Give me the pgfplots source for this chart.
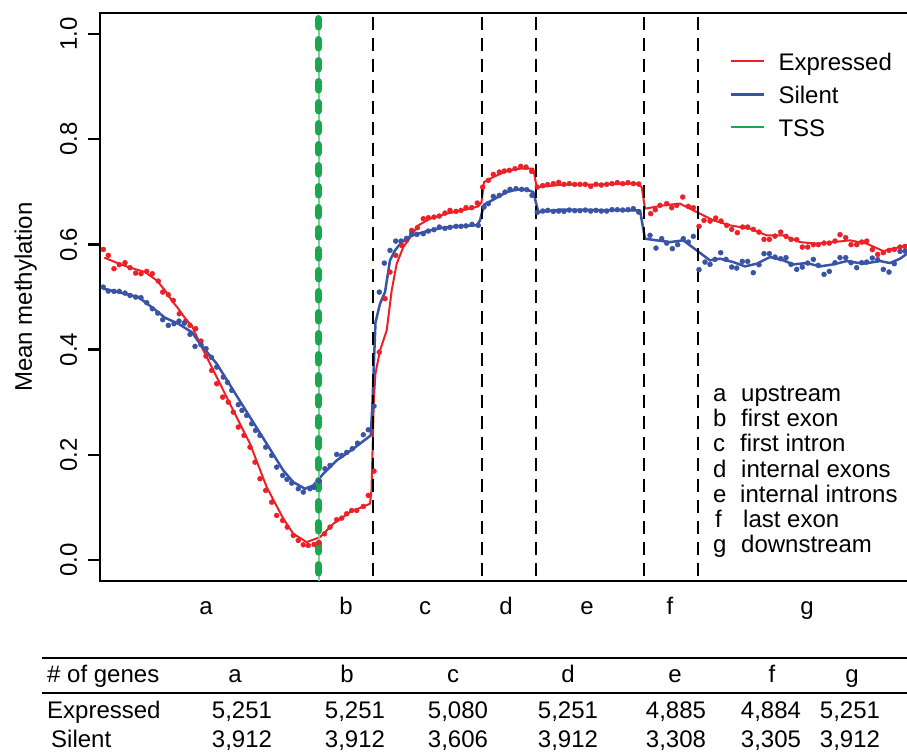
\documentclass[border=0pt]{standalone}
\usepackage{fontspec}
\setmainfont{Liberation Sans}
\usepackage{pgfplots}
\pgfplotsset{compat=1.18}
\definecolor{exred}{RGB}{236,32,39}
\definecolor{siblue}{RGB}{58,84,165}
\definecolor{tssgreen}{RGB}{26,168,78}
\definecolor{tsslight}{RGB}{130,205,155}
\newcommand\fs{\fontsize{24}{28}\selectfont}
\begin{document}
\begin{tikzpicture}
\useasboundingbox (0,0) rectangle (907pt,752pt);
\begin{axis}[
  at={(100pt,171pt)}, anchor=south west,
  scale only axis, width=815pt, height=568pt,
  xmin=100, xmax=915, ymin=-0.04, ymax=1.04,
  axis line style={line width=2.4pt, black},
  tick align=outside, major tick length=12pt,
  ytick={0,0.2,0.4,0.6,0.8,1.0},
  yticklabels={0.0,0.2,0.4,0.6,0.8,1.0},
  ytick style={line width=2.4pt, black},
  yticklabel style={rotate=90, anchor=base, inner sep=0pt, font=\fs, yshift=11pt},
  xtick={206,346,425,506,587,670,807},
  xticklabels={a,b,c,d,e,f,g},
  xtick style={draw=none},
  xticklabel style={anchor=base, inner sep=0pt, font=\fs, yshift=-22pt},
  ylabel={Mean methylation},
  ylabel style={at={(axis description cs:-0.0835,0.5)}, anchor=base, inner sep=0pt, font=\fs},
  legend style={at={(axis cs:730,0.9633)}, anchor=north west, draw=none, fill=none,
    inner sep=0pt, outer sep=0pt, row sep=11pt, column sep=13pt, font=\fs,
    nodes={inner sep=0pt, text height=17pt, text depth=5pt, anchor=base west}},
  legend cell align=left,
  legend image code/.code={\draw[#1] (0pt,9pt) -- (33pt,9pt);},
]
% Expressed: smoothed line
\addplot[exred, line width=2pt, line join=round, forget plot] coordinates {
(104.3,0.5748)(115,0.5664)(128.3,0.5569)(145,0.5474)(156.7,0.5316)(165,0.5126)(171.7,0.4935)(178.3,0.4777)(186.7,0.4555)(191.7,0.4460)(200,0.4112)(216.7,0.3477)(233.3,0.2843)(250,0.2210)(266.7,0.1385)(283.3,0.0784)(293.3,0.0498)(306.7,0.0339)(320,0.0434)(333.3,0.0688)(350,0.0909)(370,0.1069)(371.5,0.1322)(372.8,0.2273)(373.8,0.3034)(375.5,0.3547)(380,0.3984)(386.7,0.4365)(391.7,0.5126)(396.7,0.5633)(403.3,0.5949)(410,0.6128)(418.3,0.6362)(430,0.6489)(446.7,0.6584)(466.7,0.6666)(478.3,0.6723)(481.5,0.6799)(484,0.7185)(493.3,0.7281)(506.7,0.7395)(520,0.7440)(533.3,0.7440)(536.7,0.7090)(563.3,0.7136)(596.7,0.7136)(620,0.7151)(636.7,0.7155)(641.7,0.7090)(645,0.6679)(663.3,0.6742)(680,0.6775)(696.7,0.6615)(713.3,0.6457)(730,0.6362)(750,0.6299)(766.7,0.6172)(783.3,0.6172)(800,0.6044)(816.7,0.6014)(833.3,0.6044)(850,0.6077)(866.7,0.6014)(883.3,0.5873)(900,0.5949)(907,0.5981)};
% Silent: smoothed line
\addplot[siblue, line width=2.5pt, line join=round, forget plot] coordinates {
(103.3,0.5158)(118.3,0.5093)(138.3,0.4998)(151.7,0.4808)(165,0.4606)(178.3,0.4492)(191.7,0.4333)(200,0.4112)(216.7,0.3732)(233.3,0.3224)(250,0.2716)(266.7,0.2210)(283.3,0.1702)(293.3,0.1480)(305,0.1354)(313.3,0.1417)(323.3,0.1639)(336.7,0.1892)(353.3,0.2115)(370.7,0.2368)(372.3,0.2906)(374,0.3791)(375.5,0.4517)(380,0.4873)(385,0.5093)(390,0.5696)(395,0.5886)(401.7,0.6044)(410,0.6153)(426.7,0.6253)(443.3,0.6318)(460,0.6349)(476.7,0.6362)(480,0.6457)(484,0.6756)(493.3,0.6851)(506.7,0.6995)(516.7,0.7041)(526.7,0.7041)(533.3,0.6995)(538.3,0.6615)(560,0.6660)(600,0.6653)(640,0.6647)(645,0.6109)(656.7,0.6077)(670,0.6044)(683.3,0.6077)(696.7,0.5886)(710,0.5696)(720,0.5728)(733.3,0.5664)(745,0.5582)(756.7,0.5633)(770,0.5759)(783.3,0.5696)(793.3,0.5620)(806.7,0.5645)(820,0.5582)(833.3,0.5620)(846.7,0.5683)(863.3,0.5633)(880,0.5683)(890,0.5645)(900,0.5728)(907,0.5824)};
% Expressed: points
\addplot[only marks, mark=*, mark size=2.5pt, exred, forget plot] coordinates {
(103.3,0.5905)(108.3,0.5791)(114,0.5538)(119.3,0.5614)(125,0.5652)(130,0.5557)(135.7,0.5455)(141,0.5443)(146.7,0.5487)(152.3,0.5443)(158.3,0.5302)(162.7,0.5093)(168.3,0.5044)(173.3,0.4935)(179.3,0.4682)(185.7,0.4542)(190,0.4460)(195.7,0.4397)(201,0.4161)(206,0.3876)(211.7,0.3604)(216.7,0.3351)(222.7,0.3096)(228.3,0.3001)(233.3,0.2811)(238.3,0.2526)(244,0.2368)(250,0.2145)(255,0.1860)(260,0.1544)(265.7,0.1322)(271.7,0.1099)(276.7,0.0846)(282.7,0.0751)(287.3,0.0624)(293.3,0.0466)(298.3,0.0371)(303.3,0.0289)(308.3,0.0276)(314,0.0295)(319,0.0330)(324.5,0.0498)(330,0.0624)(336.7,0.0765)(341.7,0.0795)(346.7,0.0879)(351.7,0.0941)(356.7,0.0941)(363.3,0.1018)(368.3,0.1227)(374,0.1689)(379.3,0.3952)(385,0.4968)(390,0.5474)(395.7,0.5791)(401.7,0.5981)(406.5,0.6077)(411.7,0.6267)(417.3,0.6318)(423.3,0.6489)(428.3,0.6508)(434,0.6520)(439.3,0.6539)(445,0.6596)(450,0.6647)(456,0.6628)(461,0.6647)(466,0.6698)(471.7,0.6698)(477.3,0.6786)(482.7,0.7090)(488.3,0.7218)(493.3,0.7332)(499.3,0.7376)(504.3,0.7395)(509.3,0.7408)(515,0.7440)(520.7,0.7484)(526,0.7471)(531.7,0.7389)(537.3,0.7090)(542.7,0.7117)(547.7,0.7136)(553.3,0.7155)(558.7,0.7180)(564,0.7142)(569.3,0.7155)(574.7,0.7142)(580,0.7142)(585.3,0.7142)(590.7,0.7104)(596,0.7142)(601.3,0.7129)(606.7,0.7142)(612,0.7155)(617.3,0.7174)(622.7,0.7155)(628,0.7174)(633.3,0.7155)(638.7,0.7148)(650.7,0.6584)(655.3,0.6660)(660,0.6742)(666.7,0.6775)(671.7,0.6698)(676.7,0.6742)(682.7,0.6900)(688.3,0.6723)(693.3,0.6698)(699,0.6343)(704,0.6457)(710,0.6444)(715.7,0.6501)(721,0.6444)(726.7,0.6362)(731.7,0.6286)(737.3,0.6223)(742.7,0.6330)(747.7,0.6330)(753.3,0.6286)(759,0.6234)(764,0.6096)(769.3,0.6096)(775,0.6158)(780.7,0.6234)(786,0.6153)(791,0.6096)(796.7,0.6090)(802.3,0.5949)(807.7,0.5949)(813.3,0.5995)(818.3,0.5995)(824,0.6025)(829.3,0.6025)(835,0.6063)(840,0.6185)(845.7,0.6128)(851,0.5995)(856.7,0.5995)(861.7,0.6044)(866.7,0.6063)(872.3,0.5900)(877.7,0.5810)(883.3,0.5843)(889,0.5886)(894.3,0.5905)(900,0.5949)(905,0.5962)};
% Silent: points
\addplot[only marks, mark=*, mark size=2.5pt, siblue, forget plot] coordinates {
(103.3,0.5188)(108.3,0.5112)(114,0.5107)(119.3,0.5107)(125,0.5074)(130,0.5030)(135.7,0.4998)(141,0.4987)(146.7,0.4892)(152.3,0.4777)(157.7,0.4694)(162.7,0.4568)(168.3,0.4460)(174,0.4492)(179,0.4542)(184.3,0.4504)(190,0.4289)(195,0.4061)(201,0.4093)(206,0.4017)(211.5,0.3851)(216.7,0.3667)(223.3,0.3477)(227.5,0.3376)(231.7,0.3224)(238.3,0.2952)(242,0.2843)(246.7,0.2748)(251.7,0.2590)(255.5,0.2463)(260,0.2368)(265.7,0.2145)(271.7,0.1987)(276.7,0.1765)(282.7,0.1607)(287,0.1531)(291.7,0.1461)(298.3,0.1354)(303.3,0.1290)(310,0.1354)(314,0.1379)(319,0.1500)(325,0.1735)(330,0.1797)(336.7,0.2007)(341.7,0.1988)(346.7,0.2045)(352.3,0.2115)(357.5,0.2220)(363.3,0.2381)(368.3,0.2476)(374,0.2925)(379.3,0.5093)(384.3,0.5645)(390,0.5886)(395.7,0.6063)(401,0.6063)(406.5,0.6115)(411.7,0.6204)(417,0.6191)(423.3,0.6204)(428.3,0.6253)(434,0.6280)(439.3,0.6330)(445,0.6305)(450,0.6324)(456,0.6343)(461,0.6343)(466,0.6352)(472,0.6381)(478.3,0.6362)(484,0.6710)(488.3,0.6775)(493.3,0.6913)(499.3,0.6932)(505,0.6995)(510,0.7047)(516,0.7060)(521.7,0.7047)(526.7,0.7041)(532,0.6932)(537.3,0.6609)(542.7,0.6634)(547.7,0.6647)(553.3,0.6628)(558.7,0.6634)(564,0.6628)(569.3,0.6653)(574.7,0.6641)(580,0.6641)(585.3,0.6653)(590.7,0.6634)(596,0.6647)(601.3,0.6634)(606.7,0.6634)(612,0.6660)(617.3,0.6660)(622.7,0.6653)(628,0.6660)(633.3,0.6679)(638.7,0.6615)(650,0.6172)(656,0.5930)(661.7,0.6109)(666.7,0.6025)(672.3,0.5919)(677.7,0.5995)(683.3,0.6109)(688.3,0.6044)(693.3,0.6153)(699,0.5519)(705,0.5664)(710,0.5620)(715,0.5715)(720.7,0.5843)(726,0.5715)(731.7,0.5569)(736.7,0.5550)(742.3,0.5677)(747.7,0.5677)(753.3,0.5462)(759,0.5614)(764,0.5824)(769.3,0.5824)(775,0.5759)(780.7,0.5728)(786,0.5748)(791,0.5620)(796.7,0.5525)(802.3,0.5569)(807.7,0.5645)(813.3,0.5715)(818.3,0.5601)(824,0.5430)(829.3,0.5487)(835,0.5652)(840,0.5748)(845.7,0.5748)(851,0.5652)(856.7,0.5557)(861.7,0.5652)(866.7,0.5664)(872.3,0.5740)(877.7,0.5709)(883.3,0.5525)(889,0.5474)(894.3,0.5633)(900,0.5867)(905,0.5873)};
% TSS line
\addplot[tsslight, line width=2pt, forget plot] coordinates {(318.5,1.032) (318.5,-0.04)};
\addplot[tssgreen, line width=7.5pt, line cap=round, dash pattern=on 8pt off 13pt, forget plot] coordinates {(318.5,1.029) (318.5,-0.06)};
% region boundaries
\addplot[black, line width=2.4pt, dash pattern=on 13pt off 8pt, forget plot] coordinates {(373,1.032) (373,-0.04)};
\addplot[black, line width=2.4pt, dash pattern=on 13pt off 8pt, forget plot] coordinates {(482,1.032) (482,-0.04)};
\addplot[black, line width=2.4pt, dash pattern=on 13pt off 8pt, forget plot] coordinates {(536,1.032) (536,-0.04)};
\addplot[black, line width=2.4pt, dash pattern=on 13pt off 8pt, forget plot] coordinates {(644,1.032) (644,-0.04)};
\addplot[black, line width=2.4pt, dash pattern=on 13pt off 8pt, forget plot] coordinates {(698,1.032) (698,-0.04)};
\addlegendimage{exred, line width=2pt}
\addlegendentry{Expressed}
\addlegendimage{siblue, line width=2.5pt}
\addlegendentry{Silent}
\addlegendimage{tssgreen, line width=2pt}
\addlegendentry{TSS}
\end{axis}
\begin{scope}[x=1pt, y=-1pt, shift={(0pt,752pt)}]
\begin{scope}[every node/.style={font=\fs, inner sep=0pt, anchor=base west}]
\node at (713,401.5) {\makebox[28pt][l]{a}upstream};
\node at (713,426.7) {\makebox[28pt][l]{b}first exon};
\node at (713,451.9) {\makebox[27pt][l]{c}first intron};
\node at (713,477.1) {\makebox[28pt][l]{d}internal exons};
\node at (713,502.3) {\makebox[27pt][l]{e}internal introns};
\node at (715,527.5) {\makebox[28pt][l]{f}last exon};
\node at (713,552.7) {\makebox[28pt][l]{g}downstream};
\end{scope}
\draw[line width=2pt] (42,658) -- (907,658);
\draw[line width=2pt] (42,693) -- (907,693);
\begin{scope}[every node/.style={font=\fs, inner sep=0pt, anchor=base}]
\node[anchor=base west] at (47,682) {\# of genes};
\node at (235,682) {a};
\node at (347,682) {b};
\node at (453,682) {c};
\node at (568,682) {d};
\node at (675,682) {e};
\node at (772,682) {f};
\node at (852,682) {g};
\node[anchor=base west] at (47,718) {Expressed};
\node at (242,718) {5,251};
\node at (355,718) {5,251};
\node at (458,718) {5,080};
\node at (568,718) {5,251};
\node at (676,718) {4,885};
\node at (771,718) {4,884};
\node at (850,718) {5,251};
\node[anchor=base west] at (51,747) {Silent};
\node at (242,747) {3,912};
\node at (355,747) {3,912};
\node at (458,747) {3,606};
\node at (568,747) {3,912};
\node at (676,747) {3,308};
\node at (771,747) {3,305};
\node at (850,747) {3,912};
\end{scope}
\end{scope}
\end{tikzpicture}
\end{document}
